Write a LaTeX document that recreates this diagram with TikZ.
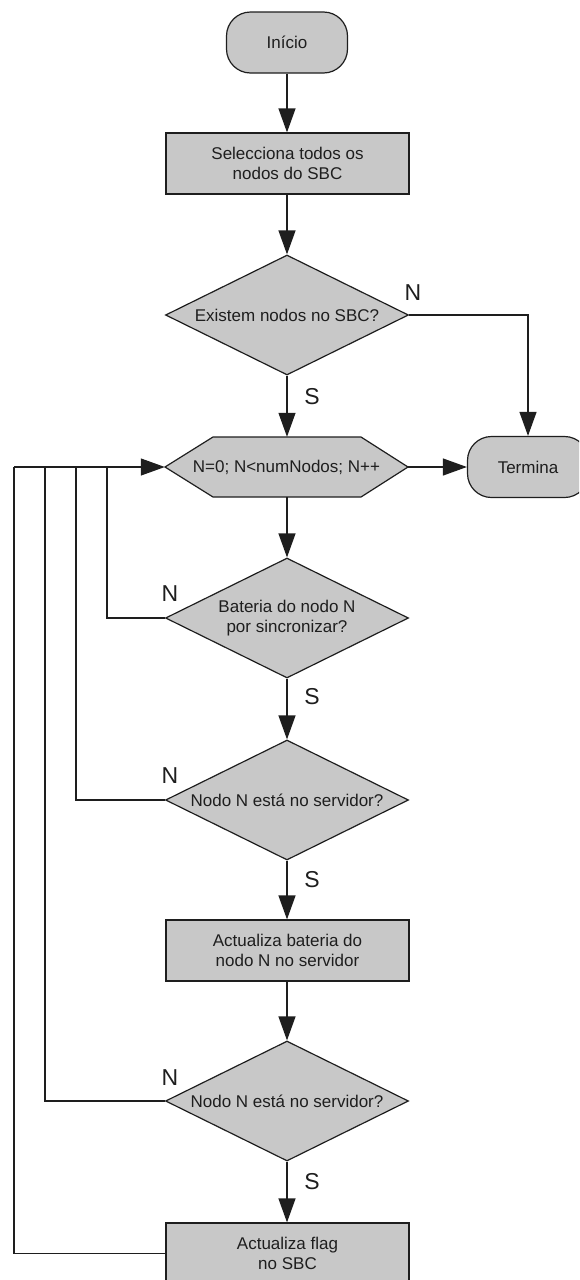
\documentclass[tikz,border=0pt]{standalone}
\usepackage{fontspec}
\setmainfont{Liberation Sans}
\usetikzlibrary{arrows.meta,shapes.geometric}
\definecolor{boxfill}{RGB}{200,200,200}
\definecolor{ink}{RGB}{30,30,30}
\begin{document}
\begin{tikzpicture}[x=1pt,y=-1pt,
  every node/.style={text=ink},
  outline/.style={draw=ink, fill=boxfill, line width=1.2pt},
  shapebase/.style={outline, inner sep=0pt, font=\fontsize{17}{20}\selectfont, align=center},
  terminal/.style={shapebase, rectangle, rounded corners=24pt, minimum width=121pt, minimum height=61pt},
  process/.style={shapebase, rectangle, minimum width=243pt, minimum height=61pt},
  decision/.style={shapebase, diamond, shape aspect=2.025, minimum width=243pt, minimum height=120pt},
  looplabel/.style={inner sep=0pt, font=\fontsize{17}{20}\selectfont,
    minimum width=243pt, minimum height=60pt},
  flow/.style={draw=ink, line width=1.2pt, -{Triangle[length=24pt,width=17pt]}},
  link/.style={draw=ink, line width=1.2pt},
  answer/.style={font=\fontsize{23}{23}\selectfont, inner sep=0pt}]
\useasboundingbox (0,0) rectangle (579,1280);
\clip (0,0) rectangle (579,1280);

% blocks
\node[terminal] (inicio) at (287,42.5) {Início};
\node[process]  (sel)    at (287.5,163.5) {Selecciona todos os\\nodos do SBC};
\node[decision] (d1)     at (287,315) {Existem nodos no SBC?};
% loop header (hexagon)
\path[outline] (165,467) -- (213,437) -- (361,437) -- (408,467) -- (361,497) -- (213,497) -- cycle;
\node[looplabel] (ciclo) at (286.5,467) {N=0; N<numNodos; N++};
\node[terminal] (fim)    at (528,467) {Termina};
\node[decision] (d2)     at (287,618) {Bateria do nodo N\\por sincronizar?};
\node[decision] (d3)     at (287,800) {Nodo N está no servidor?};
\node[process]  (act)    at (287.5,950.5) {Actualiza bateria do\\nodo N no servidor};
\node[decision] (d4)     at (287,1101) {Nodo N está no servidor?};
\node[process]  (flag)   at (287.5,1253.5) {Actualiza flag\\no SBC};

% answer labels
\node[answer] (n1) at (413,293) {N};
\node[answer] (s1) at (312,397) {S};
\node[answer] (n2) at (170,594) {N};
\node[answer] (s2) at (312,697) {S};
\node[answer] (n3) at (170,776) {N};
\node[answer] (s3) at (312,880) {S};
\node[answer] (n4) at (170,1078) {N};
\node[answer] (s4) at (312,1182) {S};

% main flow
\draw[flow] (inicio.south) -- (inicio.south |- sel.north);
\draw[flow] (sel.south -| d1.north) -- (d1.north);
\draw[flow] (d1.south) -- (d1.south |- ciclo.north);
\draw[flow] (d1.east) -| (fim.north);
\draw[flow] (ciclo.east) -- (fim.west);
\draw[flow] (d2.north |- ciclo.south) -- (d2.north);
\draw[flow] (d2.south) -- (d3.north);
\draw[flow] (d3.south) -- (d3.south |- act.north);
\draw[flow] (d4.north |- act.south) -- (d4.north);
\draw[flow] (d4.south) -- (d4.south |- flag.north);

% return paths to the loop
\coordinate (r1) at (107,467);
\coordinate (r2) at (76,467);
\coordinate (r3) at (45,467);
\coordinate (r4) at (14,467);
\draw[link] (d2.west) -| (r1);
\draw[link] (d3.west) -| (r2);
\draw[link] (d4.west) -| (r3);
\draw[link] (flag.west) -| (r4);
\draw[flow] (r4) -- (ciclo.west);
\end{tikzpicture}
\end{document}
